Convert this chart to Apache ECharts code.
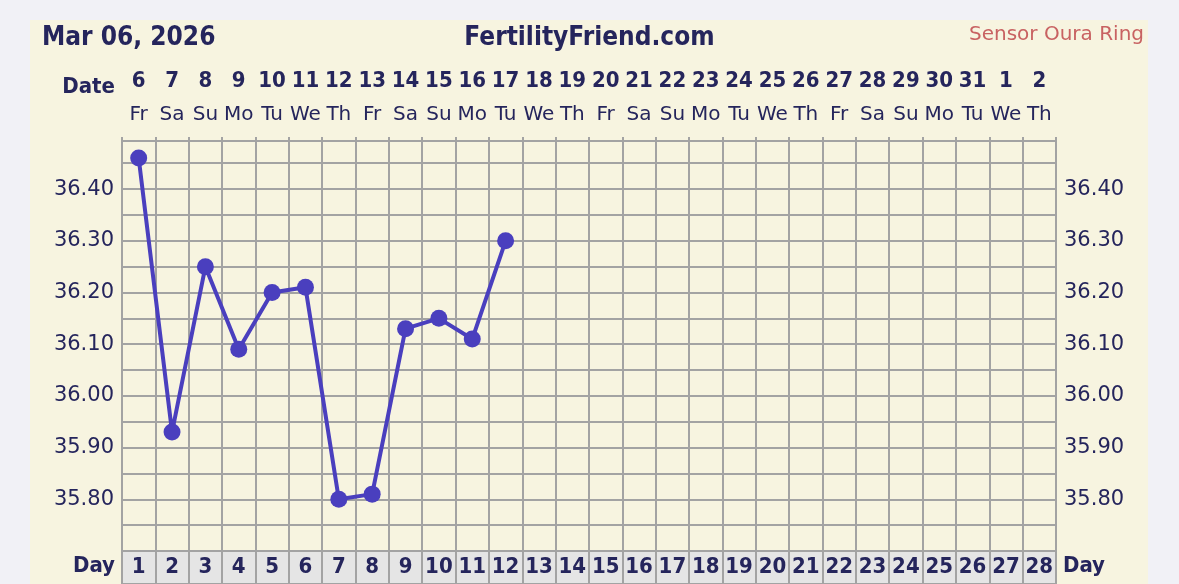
<!DOCTYPE html>
<html><head><meta charset="utf-8">
<script src="https://cdn.jsdelivr.net/npm/echarts@6/dist/echarts.min.js"></script>
<style>html,body{margin:0;padding:0;background:#f1f1f6;}#c{width:1179px;height:584px;}</style>
</head><body><div id="c"></div>
<script>
const cycleDays = ['1','2','3','4','5','6','7','8','9','10','11','12','13','14','15','16','17','18','19','20','21','22','23','24','25','26','27','28'];
const dates = ['6','7','8','9','10','11','12','13','14','15','16','17','18','19','20','21','22','23','24','25','26','27','28','29','30','31','1','2'];
const weekdays = ['Fr','Sa','Su','Mo','Tu','We','Th','Fr','Sa','Su','Mo','Tu','We','Th','Fr','Sa','Su','Mo','Tu','We','Th','Fr','Sa','Su','Mo','Tu','We','Th'];
const temps = [36.46, 35.93, 36.25, 36.09, 36.20, 36.21, 35.80, 35.81, 36.13, 36.15, 36.11, 36.30];
const yTickLabels = ['35.80','35.90','36.00','36.10','36.20','36.30','36.40'];

const navy = '#25255c';
const gridCol = '#a3a3a3';
const FONT = "'DejaVu Sans Condensed','DejaVu Sans',sans-serif";
const FONTN = "'DejaVu Sans',sans-serif";
const fmtY = v => { const s = Number(v).toFixed(2); return yTickLabels.includes(s) ? s : ''; };

const chart = echarts.init(document.getElementById('c'), null, {renderer:'canvas'});
chart.setOption({
  animation: false,
  backgroundColor: '#f1f1f6',
  graphic: [
    {type:'rect', z:-10, shape:{x:30,y:20,width:1118,height:580}, style:{fill:'#f7f4e0'}},
    {type:'text', left:42, top:25, style:{text:'Mar 06, 2026', font:"bold 26px "+FONT, fill:navy}},
    {type:'text', left:'center', top:25, style:{text:'FertilityFriend.com', font:"bold 26px "+FONT, fill:navy}},
    {type:'text', right:35, top:25, style:{text:'Sensor Oura Ring', font:"20px "+FONTN, fill:'#c86262'}},
    {type:'text', x:115, y:87, style:{text:'Date', font:"bold 22px "+FONT, fill:navy, align:'right', verticalAlign:'middle'}},
    {type:'text', x:115, y:566, style:{text:'Day', font:"bold 22px "+FONT, fill:navy, align:'right', verticalAlign:'middle'}},
    {type:'text', x:1063, y:566, style:{text:'Day', font:"bold 22px "+FONT, fill:navy, align:'left', verticalAlign:'middle'}}
  ],
  grid: [
    {left:122, right:123, top:141, height:410, containLabel:false},
    {left:122, right:123, top:551, bottom:-20, show:true, backgroundColor:'#e5e5e5', borderColor:gridCol, borderWidth:2}
  ],
  xAxis: [
    {type:'category', gridIndex:0, data:cycleDays, boundaryGap:true, position:'bottom',
     axisLine:{show:false}, axisTick:{show:false}, axisLabel:{show:false},
     splitLine:{show:true, interval:0, lineStyle:{color:gridCol, width:2}}},
    {type:'category', gridIndex:0, data:dates, boundaryGap:true, position:'top',
     axisLine:{show:true, lineStyle:{color:gridCol, width:2}},
     axisTick:{show:true, length:4, interval:0, lineStyle:{color:gridCol, width:2}},
     axisLabel:{interval:0, margin:49, color:navy, fontFamily:FONT, fontWeight:'bold', fontSize:22}},
    {type:'category', gridIndex:0, data:weekdays, boundaryGap:true, position:'top',
     axisLine:{show:false}, axisTick:{show:false},
     axisLabel:{interval:0, margin:16, color:navy, fontFamily:FONTN, fontSize:20}},
    {type:'category', gridIndex:1, data:cycleDays, boundaryGap:true, position:'top',
     axisLine:{show:false}, axisTick:{show:false},
     axisLabel:{interval:0, inside:true, margin:5, color:navy, fontFamily:FONT, fontWeight:'bold', fontSize:22},
     splitLine:{show:true, interval:0, lineStyle:{color:gridCol, width:2}}}
  ],
  yAxis: [
    {type:'value', gridIndex:0, min:35.70, max:36.493, interval:0.05, position:'left',
     axisLine:{show:true, lineStyle:{color:gridCol, width:2}}, axisTick:{show:false},
     axisLabel:{formatter:fmtY, margin:8, color:navy, fontFamily:FONTN, fontSize:21, showMaxLabel:false},
     splitLine:{show:true, lineStyle:{color:gridCol, width:2}}},
    {type:'value', gridIndex:0, min:35.70, max:36.493, interval:0.05, position:'right',
     axisLine:{show:true, lineStyle:{color:gridCol, width:2}}, axisTick:{show:false},
     axisLabel:{formatter:fmtY, margin:8, color:navy, fontFamily:FONTN, fontSize:21, showMaxLabel:false},
     splitLine:{show:false}},
    {type:'value', gridIndex:1, show:false, min:0, max:1}
  ],
  series: [
    {type:'line', xAxisIndex:0, yAxisIndex:0, data:temps, symbol:'circle', symbolSize:17,
     lineStyle:{color:'#4a3fbe', width:4}, itemStyle:{color:'#4a3fbe'}, z:5}
  ]
});
</script></body></html>
